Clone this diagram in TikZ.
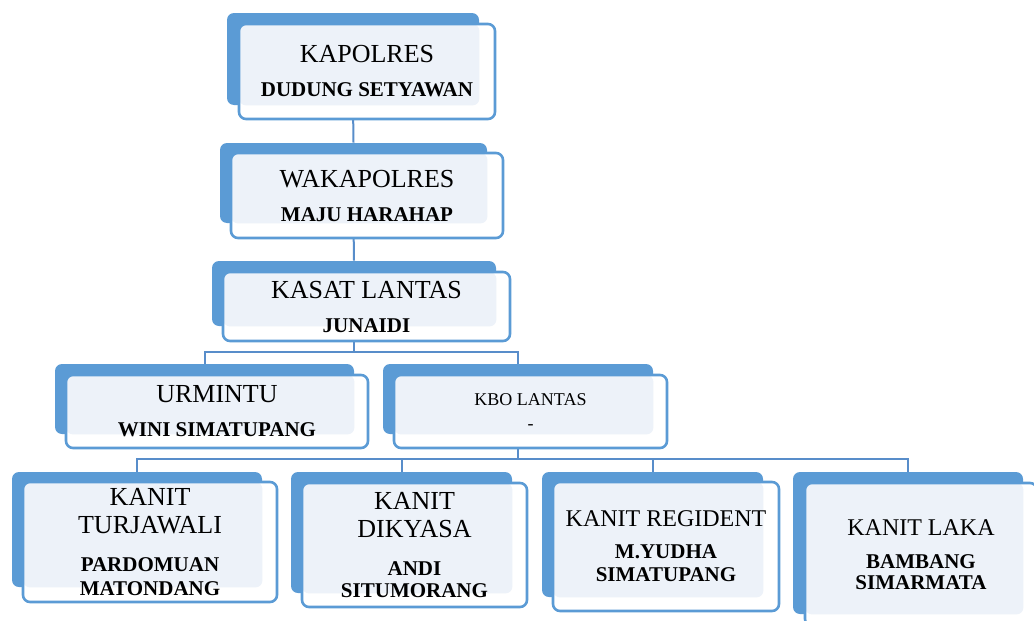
\documentclass[tikz,border=0pt]{standalone}
\usepackage{fontspec}
\setmainfont{Liberation Serif}
\usetikzlibrary{positioning}
\definecolor{boxblue}{RGB}{91,155,213}
\definecolor{linkblue}{RGB}{88,141,202}
\definecolor{boxtint}{RGB}{237,242,249}
\newcommand{\titlef}{\fontsize{13}{14}\selectfont}
\newcommand{\smalltitlef}{\fontsize{12}{14}\selectfont}
\newcommand{\kbof}{\fontsize{9}{12}\selectfont}
\newcommand{\namef}{\fontsize{10.5}{11.5}\selectfont\bfseries}

\begin{document}
\begin{tikzpicture}[x=0.5pt,y=-0.5pt,
	back/.style={rectangle,rounded corners=3.5pt,fill=boxblue,inner sep=0pt},
	front/.style={rectangle,rounded corners=3.5pt,draw=boxblue,line width=1.3pt,fill=white,inner sep=0pt,align=center,font=\titlef,
		path picture={\fill[boxtint,rounded corners=3.5pt] (path picture bounding box.north west) rectangle (#1.south east);}},
	link/.style={draw=linkblue,line width=1pt}]
	\useasboundingbox (0,0) rectangle (1034,621);

	\node[back,minimum width=126pt,minimum height=46pt](kapolres_bg) at (353,59){};
	\node[back,minimum width=133.5pt,minimum height=40pt](wakapolres_bg) at (353.5,183){};
	\node[back,minimum width=142pt,minimum height=32.5pt](kasat_bg) at (354,293.5){};
	\node[back,minimum width=149.5pt,minimum height=35pt](urmintu_bg) at (204.5,399){};
	\node[back,minimum width=135pt,minimum height=35pt](kbo_bg) at (518,399){};
	\node[back,minimum width=125pt,minimum height=57.5pt](turjawali_bg) at (137,529.5){};
	\node[back,minimum width=110.5pt,minimum height=60.5pt](dikyasa_bg) at (401.5,532.5){};
	\node[back,minimum width=110.5pt,minimum height=62.5pt](regident_bg) at (652.5,534.5){};
	\node[back,minimum width=115pt,minimum height=71pt](laka_bg) at (908,543){};

	\coordinate (bus_a) at (354,352);
	\coordinate (bus_b) at (518,459);
	\draw[link] (kapolres_bg.south) -- (wakapolres_bg.north);
	\draw[link] (wakapolres_bg.south) -- (kasat_bg.north);
	\draw[link] (kasat_bg.south) -- (bus_a);
	\draw[link] (urmintu_bg.north) |- (bus_a) -| (kbo_bg.north);
	\draw[link] (kbo_bg.south) -- (bus_b);
	\draw[link] (turjawali_bg.north) |- (bus_b) -| (laka_bg.north);
	\draw[link] (dikyasa_bg.north) -- (dikyasa_bg.north |- bus_b);
	\draw[link] (regident_bg.north) -- (regident_bg.north |- bus_b);

	\node[front=kapolres_bg,minimum width=128pt,minimum height=47.5pt](kapolres) at (367,71.5)
		{KAPOLRES\\[3pt]\namef DUDUNG SETYAWAN};
	\node[front=wakapolres_bg,minimum width=136pt,minimum height=42.5pt](wakapolres) at (367,195.5)
		{WAKAPOLRES\\[3pt]\namef MAJU HARAHAP};
	\node[front=kasat_bg,minimum width=143.5pt,minimum height=34.5pt](kasat) at (366.5,306.5)
		{KASAT LANTAS\\[3pt]\namef JUNAIDI};
	\node[front=urmintu_bg,minimum width=151pt,minimum height=36.5pt](urmintu) at (217,411.5)
		{URMINTU\\[3pt]\namef WINI SIMATUPANG};
	\node[front=kbo_bg,minimum width=136.5pt,minimum height=36.5pt,font=\kbof](kbo) at (530.5,411.5)
		{KBO LANTAS\\-};
	\node[front=turjawali_bg,minimum width=127pt,minimum height=60pt](turjawali) at (150,542)
		{KANIT\\TURJAWALI\\[5pt]\namef PARDOMUAN\\[-2pt]\namef MATONDANG};
	\node[front=dikyasa_bg,minimum width=112.5pt,minimum height=62pt](dikyasa) at (414.5,545)
		{KANIT\\DIKYASA\\[5pt]\namef ANDI\\[-3pt]\namef SITUMORANG};
	\node[front=regident_bg,minimum width=113pt,minimum height=64.5pt,font=\smalltitlef](regident) at (666,546.5)
		{KANIT REGIDENT\\[2pt]\namef M.YUDHA\\[-2.5pt]\namef SIMATUPANG};
	\node[front=laka_bg,minimum width=116pt,minimum height=71.5pt,font=\smalltitlef](laka) at (921,554.5)
		{KANIT LAKA\\[2.5pt]\namef BAMBANG\\[-3.5pt]\namef SIMARMATA};
\end{tikzpicture}
\end{document}
